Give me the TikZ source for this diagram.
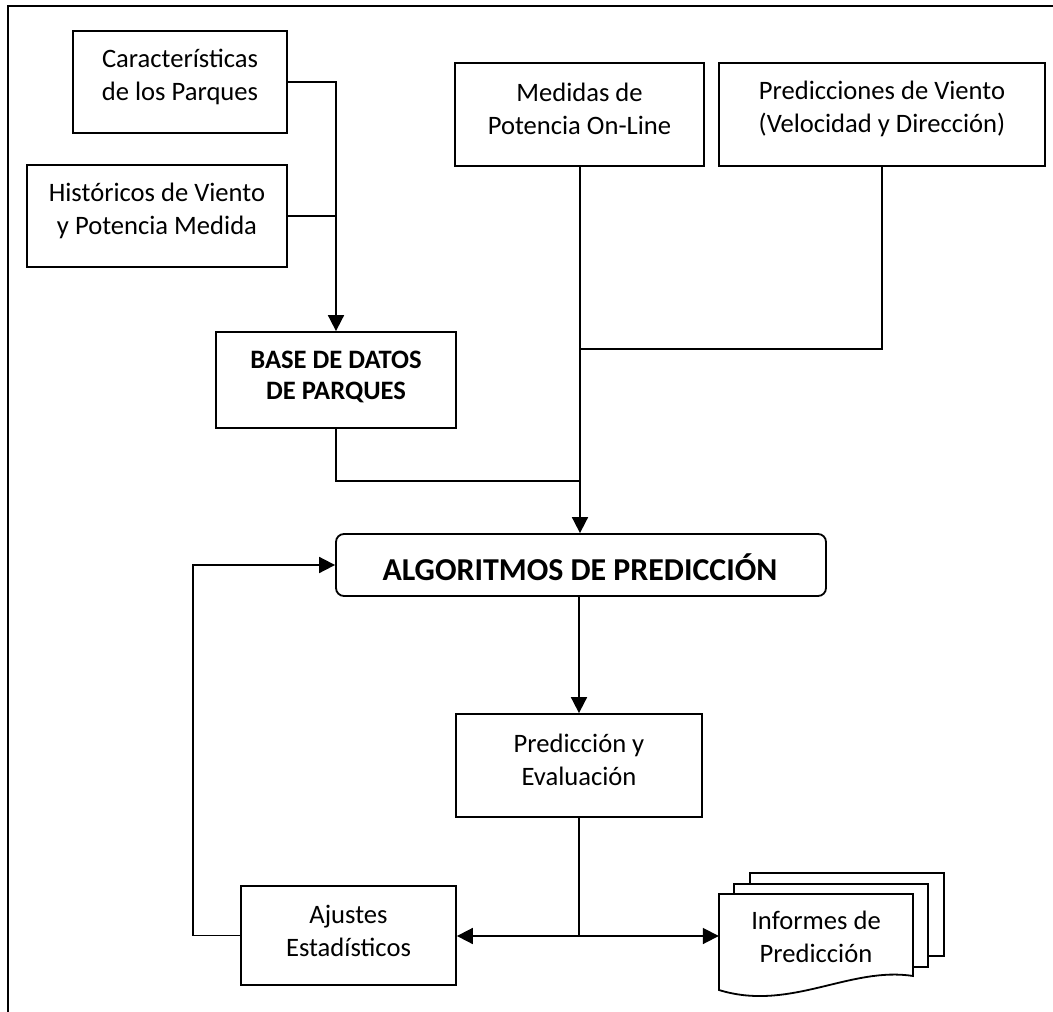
\documentclass[tikz,border=0pt]{standalone}
\usepackage{fontspec}
\setmainfont{Carlito}
\usetikzlibrary{arrows.meta}
\begin{document}
\begin{tikzpicture}[x=1pt,y=-1pt,
  box/.style={draw, line width=1.8pt, inner sep=0pt},
  txt/.style={align=center, inner sep=0pt, font=\fontsize{26.6}{33}\selectfont},
  btxt/.style={align=center, inner sep=0pt, font=\fontsize{26.6}{31.5}\selectfont\bfseries},
  conn/.style={line width=1.8pt},
  arr/.style={conn, -{Triangle[length=16pt,width=16pt]}},
  page/.style={draw, line width=1.8pt, fill=white}]
\useasboundingbox (0,0) rectangle (1053,1012);
\draw[line width=1.5pt] (8,1012) -- (8,6) -- (1053,6);
% boxes
\node[box, minimum width=214, minimum height=102] (car) at (180,82) {};
\node[txt] (cart) at (180,77) {Características\\de los Parques};
\node[box, minimum width=260, minimum height=102] (his) at (157,216) {};
\node[txt] (hist) at (157,211) {Históricos de Viento\\y Potencia Medida};
\node[box, minimum width=249, minimum height=103] (med) at (579.5,114.5) {};
\node[txt] (medt) at (579.5,109) {Medidas de\\Potencia On-Line};
\node[box, minimum width=326, minimum height=103] (pre) at (882,114.5) {};
\node[txt] (pret) at (882,109) {Predicciones de Viento\\(Velocidad y Dirección)};
\node[box, minimum width=240, minimum height=96] (bd) at (336,380) {};
\node[btxt] (bdt) at (336,377) {BASE DE DATOS\\DE PARQUES};
\node[box, rounded corners=8pt, minimum width=490, minimum height=62] (alg) at (581,565) {};
\node[inner sep=0pt, font=\fontsize{31.9}{36}\selectfont\bfseries] (algt) at (580,567) {ALGORITMOS DE PREDICCIÓN};
\node[box, minimum width=246, minimum height=103] (pev) at (579,765.5) {};
\node[txt] (pevt) at (579,760) {Predicción y\\Evaluación};
\node[box, minimum width=215, minimum height=99] (aju) at (348.5,935.5) {};
\node[txt] (ajut) at (348.5,931) {Ajustes\\Estadísticos};
% multi-document
\draw[page] (750,873) rectangle (944,956);
\draw[page] (734,884) rectangle (928,967);
\draw[page] (719,894) -- (913,894) -- (913,976) .. controls (850,966) and (790,1012) .. (719,990) -- cycle;
\node[minimum width=194, minimum height=96, inner sep=0pt] (inf) at (816,942) {};
\node[txt] (inft) at (816,937) {Informes de\\Predicción};
% connectors
\coordinate (j2) at (580,349);
\coordinate (j3) at (580,481);
\coordinate (j4) at (579,936);
\coordinate (fb) at (193,935.5);
\draw[arr] (car.east) -| (bd.north);
\draw[conn] (his.east) -- (his.east -| bd.north);
\draw[arr] (med.south -| j2) -- (j2 |- alg.north);
\draw[conn] (pre.south) |- (j2);
\draw[conn] (bd.south) |- (j3);
\draw[arr] (alg.south -| pev.north) -- (pev.north);
\draw[conn] (pev.south) -- (j4);
\draw[arr] (j4) -- (j4 -| aju.east);
\draw[arr] (j4) -- (j4 -| inf.west);
\draw[arr] (aju.west) -- (fb) |- (alg.west);
\end{tikzpicture}
\end{document}
